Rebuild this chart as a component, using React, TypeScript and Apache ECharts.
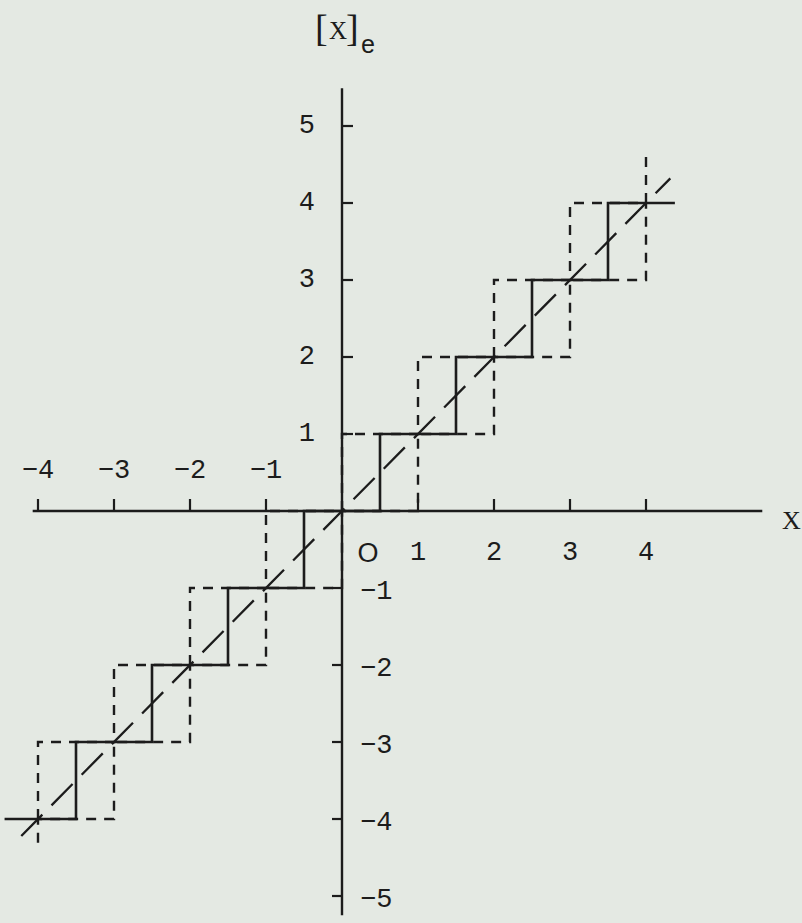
import React, { useEffect, useRef } from 'react';
import * as echarts from 'echarts';

// Tick values and their printed labels
const xTickValues = [-4, -3, -2, -1, 1, 2, 3, 4];
const xTickLabels = ['−4', '−3', '−2', '−1', '1', '2', '3', '4'];
const yTickValues = [-5, -4, -3, -2, -1, 1, 2, 3, 4, 5];
const yTickLabels = ['−5', '−4', '−3', '−2', '−1', '1', '2', '3', '4', '5'];

// [x]e : rounding to the nearest integer (solid staircase)
const roundLevels = [-4, -3, -2, -1, 0, 1, 2, 3, 4];
const roundEdges = [-4.44, -3.5, -2.5, -1.5, -0.5, 0.5, 1.5, 2.5, 3.5, 4.38];

// Chopping bounds: floor and ceiling over unit intervals (dashed staircases)
const unitEdges = [-4, -3, -2, -1, 0, 1, 2, 3, 4];
const floorLevels = [-4, -3, -2, -1, 0, 1, 2, 3];
const ceilLevels = [-3, -2, -1, 0, 1, 2, 3, 4];
const floorTail = -4.31;
const ceilTail = 4.66;

// y = x reference line
const diagonalEnds = [-4.22, 4.32];

// Drawn extent of the two axes
const xAxisExtent = [-4.07, 5.53];
const yAxisExtent = [-5.25, 5.49];

const INK = '#1c1c1c';
const PAPER = '#e4e9e3';
const DIGIT_FONT = '27px "Liberation Mono", "DejaVu Sans Mono", monospace';
const SERIF_FONT = '"Liberation Serif", "DejaVu Serif", serif';

const stairs = (edges: number[], levels: number[]) =>
  levels.flatMap((lv, i) => [
    [edges[i], lv],
    [edges[i + 1], lv],
  ]);

export default function App() {
  const ref = useRef<HTMLDivElement>(null);

  useEffect(() => {
    if (!ref.current) return;
    const chart = echarts.init(ref.current, undefined, { renderer: 'svg' });

    const last = unitEdges.length - 1;
    const roundPts = stairs(roundEdges, roundLevels);
    const floorPts = [
      [unitEdges[0], floorTail],
      ...stairs(unitEdges, floorLevels),
      [unitEdges[last], ceilLevels[ceilLevels.length - 1]],
    ];
    const ceilPts = [
      [unitEdges[0], floorLevels[0]],
      ...stairs(unitEdges, ceilLevels),
      [unitEdges[last], ceilTail],
    ];

    const segment = (data: number[][], width: number, dash: number[] | 'solid', z: number) => ({
      type: 'line',
      data,
      symbol: 'none',
      silent: true,
      z,
      lineStyle: { color: INK, width, type: dash, cap: 'butt', join: 'miter' },
    });

    const option: any = {
      animation: false,
      backgroundColor: PAPER,
      grid: { left: 0, top: 49, width: 798, height: 870.1, containLabel: false },
      xAxis: {
        type: 'value',
        min: -4.5,
        max: 6,
        show: true,
        axisLine: { show: false },
        axisTick: { show: false },
        axisLabel: { show: false },
        splitLine: { show: false },
      },
      yAxis: {
        type: 'value',
        min: -5.3,
        max: 6,
        show: true,
        axisLine: { show: false },
        axisTick: { show: false },
        axisLabel: { show: false },
        splitLine: { show: false },
      },
      series: [
        segment(floorPts, 2.4, [10, 8], 2),
        segment(ceilPts, 2.4, [10, 8], 2),
        segment(
          [
            [diagonalEnds[0], diagonalEnds[0]],
            [diagonalEnds[1], diagonalEnds[1]],
          ],
          2.3,
          [30, 13],
          3
        ),
        segment(
          [
            [xAxisExtent[0], 0],
            [xAxisExtent[1], 0],
          ],
          2.4,
          'solid',
          4
        ),
        segment(
          [
            [0, yAxisExtent[0]],
            [0, yAxisExtent[1]],
          ],
          2.4,
          'solid',
          4
        ),
        segment(roundPts, 2.6, 'solid', 5),
        {
          // x ticks, all drawn upward from the axis
          type: 'custom',
          coordinateSystem: 'cartesian2d',
          silent: true,
          z: 6,
          data: xTickValues.map((v) => [v, 0]),
          renderItem: (_p: any, api: any) => {
            const c = api.coord([api.value(0), 0]);
            return {
              type: 'line',
              shape: { x1: c[0], y1: c[1], x2: c[0], y2: c[1] - 12 },
              style: { stroke: INK, lineWidth: 2.2 },
            };
          },
        },
        {
          // y ticks: right of the axis above zero, left of it below
          type: 'custom',
          coordinateSystem: 'cartesian2d',
          silent: true,
          z: 6,
          data: yTickValues.map((v) => [0, v]),
          renderItem: (_p: any, api: any) => {
            const v = api.value(1);
            const c = api.coord([0, v]);
            const dx = v > 0 ? 11 : -10;
            return {
              type: 'line',
              shape: { x1: c[0], y1: c[1], x2: c[0] + dx, y2: c[1] },
              style: { stroke: INK, lineWidth: 2.2 },
            };
          },
        },
        {
          // x tick labels: above the axis for negatives, below for positives
          type: 'custom',
          coordinateSystem: 'cartesian2d',
          silent: true,
          z: 7,
          data: xTickValues.map((v) => [v, 0]),
          renderItem: (p: any, api: any) => {
            const v = api.value(0);
            const c = api.coord([v, 0]);
            return {
              type: 'text',
              x: c[0],
              y: c[1] + (v < 0 ? -40 : 42),
              style: {
                text: xTickLabels[p.dataIndex],
                fill: INK,
                font: DIGIT_FONT,
                align: 'center',
                verticalAlign: 'middle',
              },
            };
          },
        },
        {
          // y tick labels: left of the axis above zero, right of it below
          type: 'custom',
          coordinateSystem: 'cartesian2d',
          silent: true,
          z: 7,
          data: yTickValues.map((v) => [0, v]),
          renderItem: (p: any, api: any) => {
            const v = api.value(1);
            const c = api.coord([0, v]);
            const pos = v > 0;
            return {
              type: 'text',
              x: c[0] + (pos ? -27 : 18),
              y: c[1] + (pos ? 0 : 4),
              style: {
                text: yTickLabels[p.dataIndex],
                fill: INK,
                font: DIGIT_FONT,
                align: pos ? 'right' : 'left',
                verticalAlign: 'middle',
              },
            };
          },
        },
        {
          // origin label and the X axis name
          type: 'custom',
          coordinateSystem: 'cartesian2d',
          silent: true,
          z: 7,
          data: [
            [0, 0],
            [xAxisExtent[1], 0],
          ],
          renderItem: (p: any, api: any) => {
            const c = api.coord([api.value(0), api.value(1)]);
            const isOrigin = p.dataIndex === 0;
            return {
              type: 'text',
              x: c[0] + (isOrigin ? 26 : 29),
              y: c[1] + (isOrigin ? 42 : 9),
              style: {
                text: isOrigin ? 'O' : 'X',
                fill: INK,
                fontFamily: isOrigin ? 'Liberation Sans' : 'Liberation Serif',
                fontSize: isOrigin ? 27 : 26,
                align: 'center',
                verticalAlign: 'middle',
              },
            };
          },
        },
      ],
      graphic: [
        {
          type: 'text',
          left: 315,
          top: 9,
          style: { text: '[', fill: INK, font: '38px ' + SERIF_FONT },
        },
        {
          type: 'text',
          x: 338,
          y: 30,
          style: {
            text: 'X',
            fill: INK,
            font: '25px ' + SERIF_FONT,
            align: 'center',
            verticalAlign: 'middle',
          },
        },
        {
          type: 'text',
          left: 346,
          top: 9,
          style: { text: ']', fill: INK, font: '38px ' + SERIF_FONT },
        },
        {
          type: 'text',
          x: 368,
          y: 46,
          style: {
            text: 'e',
            fill: INK,
            font: '25px "Liberation Mono", "DejaVu Sans Mono", monospace',
            align: 'center',
            verticalAlign: 'middle',
          },
        },
      ],
    };

    chart.setOption(option);
    return () => chart.dispose();
  }, []);

  return (
    <div
      ref={ref}
      style={{
        position: 'absolute',
        left: 0,
        top: 0,
        width: 802,
        height: 923,
        background: PAPER,
      }}
    />
  );
}
